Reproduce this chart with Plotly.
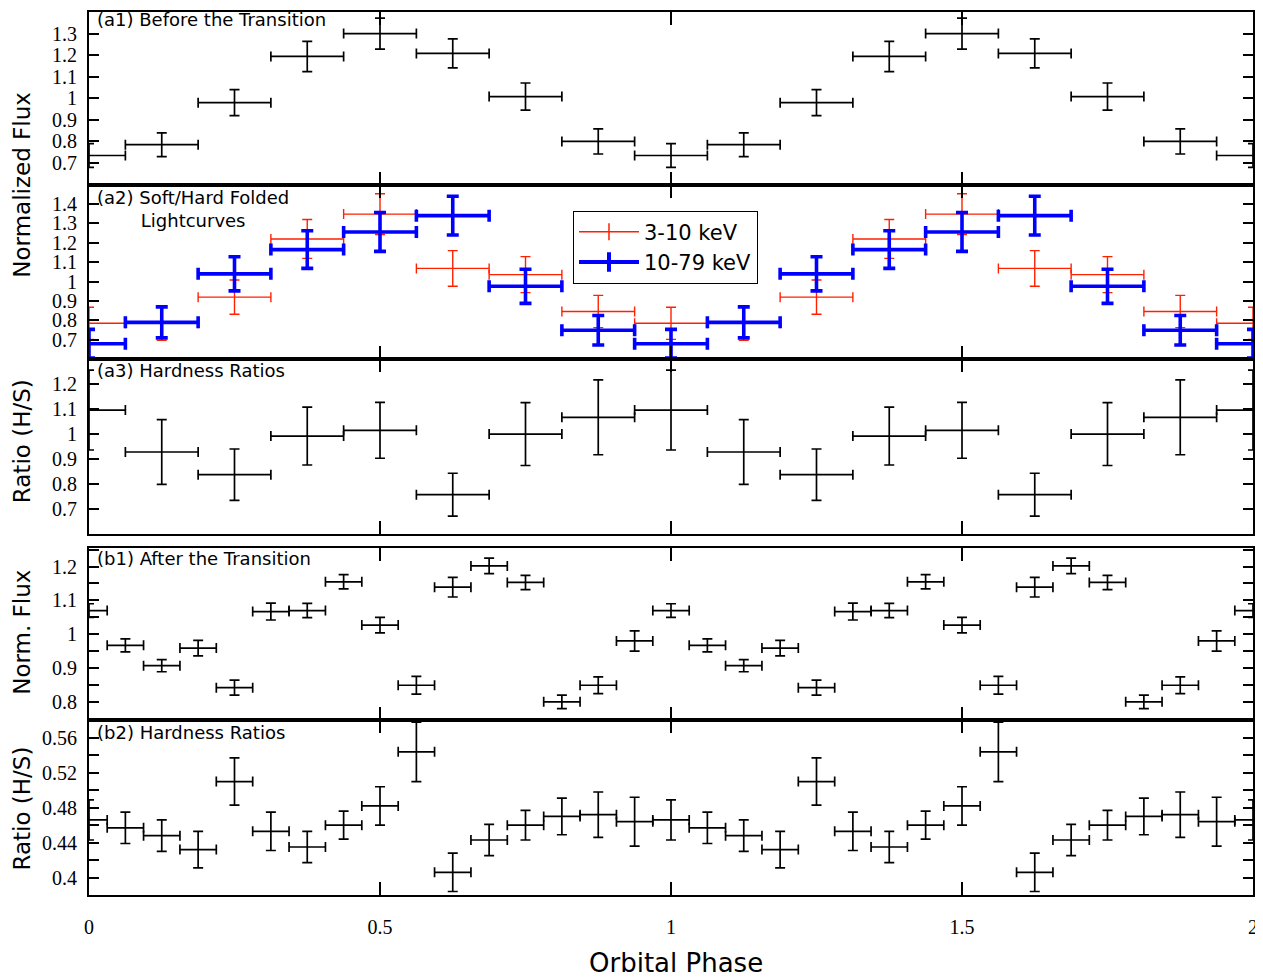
import plotly.graph_objects as go
from plotly.subplots import make_subplots

# ---------------- data ----------------
# Panels (a): 8 phase bins per cycle, shown over two cycles
a_phase = [0.0, 0.125, 0.25, 0.375, 0.5, 0.625, 0.75, 0.875, 1.0,
           1.125, 1.25, 1.375, 1.5, 1.625, 1.75, 1.875, 2.0]
a_halfbin = [0.0625] * 17

a1_flux = [0.735, 0.785, 0.98, 1.194, 1.30, 1.208, 1.008, 0.80, 0.735,
           0.785, 0.98, 1.194, 1.30, 1.208, 1.008, 0.80, 0.735]
a1_err = [0.055, 0.055, 0.06, 0.07, 0.072, 0.067, 0.063, 0.058, 0.055,
          0.055, 0.06, 0.07, 0.072, 0.067, 0.063, 0.058, 0.055]

a2_soft = [0.785, 0.785, 0.92, 1.22, 1.348, 1.068, 1.036, 0.846, 0.785,
           0.785, 0.92, 1.22, 1.348, 1.068, 1.036, 0.846, 0.785]
a2_soft_err = [0.083, 0.088, 0.088, 0.10, 0.105, 0.092, 0.093, 0.083, 0.083,
               0.088, 0.088, 0.10, 0.105, 0.092, 0.093, 0.083, 0.083]
a2_hard = [0.68, 0.79, 1.04, 1.165, 1.256, 1.34, 0.976, 0.749, 0.68,
           0.79, 1.04, 1.165, 1.256, 1.34, 0.976, 0.749, 0.68]
a2_hard_err = [0.074, 0.08, 0.088, 0.097, 0.10, 0.10, 0.088, 0.076, 0.074,
               0.08, 0.088, 0.097, 0.10, 0.10, 0.088, 0.076, 0.074]

a3_ratio = [1.096, 0.928, 0.837, 0.992, 1.015, 0.757, 1.0, 1.067, 1.096,
            0.928, 0.837, 0.992, 1.015, 0.757, 1.0, 1.067, 1.096]
a3_err = [0.16, 0.13, 0.103, 0.116, 0.112, 0.086, 0.126, 0.15, 0.16,
          0.13, 0.103, 0.116, 0.112, 0.086, 0.126, 0.15, 0.16]

# Panels (b): 16 phase bins per cycle, shown over two cycles
b_phase = [0.0, 0.0625, 0.125, 0.1875, 0.25, 0.3125, 0.375, 0.4375,
           0.5, 0.5625, 0.625, 0.6875, 0.75, 0.8125, 0.875, 0.9375,
           1.0, 1.0625, 1.125, 1.1875, 1.25, 1.3125, 1.375, 1.4375,
           1.5, 1.5625, 1.625, 1.6875, 1.75, 1.8125, 1.875, 1.9375, 2.0]
b_halfbin = [0.03125] * 33

b1_flux = [1.07, 0.967, 0.907, 0.959, 0.842, 1.067, 1.07, 1.155,
           1.027, 0.849, 1.139, 1.202, 1.153, 0.80, 0.849, 0.98,
           1.07, 0.967, 0.907, 0.959, 0.842, 1.067, 1.07, 1.155,
           1.027, 0.849, 1.139, 1.202, 1.153, 0.80, 0.849, 0.98, 1.07]
b1_err = [0.02, 0.019, 0.018, 0.023, 0.022, 0.025, 0.021, 0.021,
          0.023, 0.026, 0.029, 0.023, 0.021, 0.02, 0.025, 0.03,
          0.02, 0.019, 0.018, 0.023, 0.022, 0.025, 0.021, 0.021,
          0.023, 0.026, 0.029, 0.023, 0.021, 0.02, 0.025, 0.03, 0.02]

b2_ratio = [0.466, 0.457, 0.448, 0.432, 0.51, 0.453, 0.435, 0.46,
            0.482, 0.544, 0.406, 0.443, 0.46, 0.47, 0.472, 0.464,
            0.466, 0.457, 0.448, 0.432, 0.51, 0.453, 0.435, 0.46,
            0.482, 0.544, 0.406, 0.443, 0.46, 0.47, 0.472, 0.464, 0.466]
b2_err = [0.023, 0.018, 0.018, 0.021, 0.027, 0.022, 0.018, 0.016,
          0.022, 0.034, 0.022, 0.018, 0.017, 0.021, 0.026, 0.028,
          0.023, 0.018, 0.018, 0.021, 0.027, 0.022, 0.018, 0.016,
          0.022, 0.034, 0.022, 0.018, 0.017, 0.021, 0.026, 0.028, 0.023]

x_ticks = [0, 0.5, 1, 1.5, 2]
x_ticktext = ["0", "0.5", "1", "1.5", "2"]

# ---------------- figure ----------------
SANS = "DejaVu Sans"
SERIF = "Liberation Serif"

fig = make_subplots(rows=5, cols=1, shared_xaxes=True, vertical_spacing=0)


def err_trace(x, y, xe, ye, color, width, cap):
    return go.Scatter(
        x=x, y=y, mode="markers",
        marker=dict(size=0.1, color=color),
        error_x=dict(type="data", array=xe, color=color, thickness=width, width=cap),
        error_y=dict(type="data", array=ye, color=color, thickness=width, width=cap),
        showlegend=False, hoverinfo="skip", cliponaxis=False,
    )


fig.add_trace(err_trace(a_phase, a1_flux, a_halfbin, a1_err, "black", 1.7, 5), row=1, col=1)
fig.add_trace(err_trace(a_phase, a2_soft, a_halfbin, a2_soft_err, "#ff2000", 1.4, 5), row=2, col=1)
fig.add_trace(err_trace(a_phase, a2_hard, a_halfbin, a2_hard_err, "#0000ff", 3.6, 6), row=2, col=1)
fig.add_trace(err_trace(a_phase, a3_ratio, a_halfbin, a3_err, "black", 1.7, 5), row=3, col=1)
fig.add_trace(err_trace(b_phase, b1_flux, b_halfbin, b1_err, "black", 1.7, 5), row=4, col=1)
fig.add_trace(err_trace(b_phase, b2_ratio, b_halfbin, b2_err, "black", 1.7, 5), row=5, col=1)

# legend entries
fig.add_trace(go.Scatter(x=[None], y=[None], mode="lines+markers", name="3-10 keV",
                         line=dict(color="#ff2000", width=1.5),
                         marker=dict(symbol="line-ns", size=12,
                                     line=dict(color="#ff2000", width=1.5))),
              row=2, col=1)
fig.add_trace(go.Scatter(x=[None], y=[None], mode="lines+markers", name="10-79 keV",
                         line=dict(color="#0000ff", width=4),
                         marker=dict(symbol="line-ns", size=14,
                                     line=dict(color="#0000ff", width=4))),
              row=2, col=1)

# domains (fractions of plot area height)
domains = [[0.8045, 1.0], [0.6068, 0.8045], [0.409, 0.6068], [0.1977, 0.393], [0.0, 0.1977]]
yranges = [[0.6, 1.4], [0.6, 1.5], [0.6, 1.3], [0.745, 1.255], [0.38, 0.58]]
yticks = [
    [0.7, 0.8, 0.9, 1.0, 1.1, 1.2, 1.3],
    [0.7, 0.8, 0.9, 1.0, 1.1, 1.2, 1.3, 1.4],
    [0.7, 0.8, 0.9, 1.0, 1.1, 1.2],
    [0.8, 0.9, 1.0, 1.1, 1.2],
    [0.40, 0.44, 0.48, 0.52, 0.56],
]
ytext = [
    ["0.7", "0.8", "0.9", "1", "1.1", "1.2", "1.3"],
    ["0.7", "0.8", "0.9", "1", "1.1", "1.2", "1.3", "1.4"],
    ["0.7", "0.8", "0.9", "1", "1.1", "1.2"],
    ["0.8", "0.9", "1", "1.1", "1.2"],
    ["0.4", "0.44", "0.48", "0.52", "0.56"],
]
yminor = [None, None, None,
          [0.75, 0.85, 0.95, 1.05, 1.15, 1.25],
          [0.38, 0.42, 0.46, 0.50, 0.54, 0.58]]

for i in range(5):
    yax = dict(
        domain=domains[i], range=yranges[i], tickmode="array",
        tickvals=yticks[i], ticktext=ytext[i],
        ticks="inside", ticklen=10, tickwidth=1.5, tickcolor="black",
        showline=True, linewidth=2, linecolor="black", mirror="allticks",
        showgrid=False, zeroline=False,
        tickfont=dict(family=SERIF, size=20, color="black"),
        ticklabelstandoff=6,
    )
    if yminor[i] is not None:
        yax["minor"] = dict(tickmode="array", tickvals=yminor[i], ticks="inside",
                            ticklen=10, tickwidth=1.5, tickcolor="black", showgrid=False)
    fig.update_yaxes(row=i + 1, col=1, **yax)
    fig.update_xaxes(
        row=i + 1, col=1, range=[0, 2], tickmode="array", tickvals=x_ticks,
        ticktext=x_ticktext,
        ticks="inside", ticklen=13, tickwidth=1.5, tickcolor="black",
        showline=True, linewidth=2, linecolor="black", mirror="allticks",
        showgrid=False, zeroline=False, showticklabels=(i == 4),
        tickfont=dict(family=SERIF, size=20, color="black"),
        ticklabelstandoff=13,
    )

# panel labels (y position in each panel's domain)
labels = [
    ("y", "(a1) Before the Transition", "left", 1.03),
    ("y2", "(a2) Soft/Hard Folded<br>Lightcurves", "center", 1.0),
    ("y3", "(a3) Hardness Ratios", "left", 1.008),
    ("y4", "(b1) After the Transition", "left", 1.01),
    ("y5", "(b2) Hardness Ratios", "left", 1.0),
]
annotations = []
for yref, txt, al, yy in labels:
    annotations.append(dict(
        xref="x domain", yref=yref + " domain", x=0.005, y=yy,
        xanchor="left", yanchor="top", text=txt, align=al, showarrow=False,
        font=dict(family=SANS, size=18, color="black")))

# axis titles
ytitles = [("Normalized Flux", 0.8045), ("Ratio (H/S)", 0.514),
           ("Norm. Flux", 0.297), ("Ratio (H/S)", 0.098)]
for txt, yc in ytitles:
    annotations.append(dict(
        xref="paper", yref="paper", x=-0.0575, y=yc, text=txt, textangle=-90,
        xanchor="center", yanchor="middle", showarrow=False,
        font=dict(family=SANS, size=23, color="black")))
annotations.append(dict(
    xref="paper", yref="paper", x=0.504, y=-0.0768, text="Orbital Phase",
    xanchor="center", yanchor="middle", showarrow=False,
    font=dict(family=SANS, size=26, color="black")))

# The page body adds an 8 px offset; size and margins compensate so the
# plotting area sits at x 89-1253, y 10-895 in the 1263x979 window.
fig.update_layout(
    width=1255, height=971,
    margin=dict(l=81, r=10, t=2, b=84),
    plot_bgcolor="white", paper_bgcolor="white",
    annotations=annotations,
    showlegend=True,
    legend=dict(x=0.4158, y=0.7751, xanchor="left", yanchor="top",
                bordercolor="black", borderwidth=1, bgcolor="white",
                font=dict(family=SANS, size=21, color="black"),
                itemwidth=60),
)

fig.write_html("out.html")
